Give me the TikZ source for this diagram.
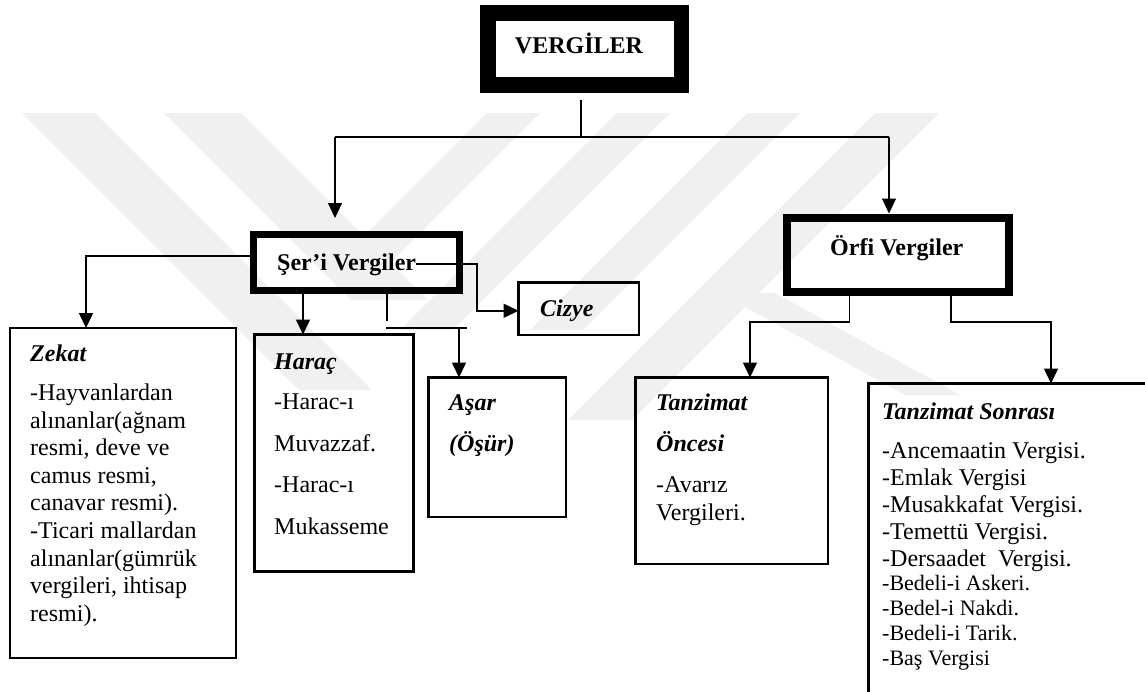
\documentclass[tikz,border=0pt]{standalone}
\usepackage{fontspec}
\setmainfont{Liberation Serif}[
  BoldFont={Liberation Serif Bold},
  ItalicFont={Liberation Serif Italic},
  BoldItalicFont={Liberation Serif Bold Italic}]
\usetikzlibrary{arrows.meta,calc}
\begin{document}
\begin{tikzpicture}[x=1pt,y=-1pt,
  wm/.style={fill=black!6,draw=none},
  heavybox/.style={draw,line width=#1,inner sep=0pt,outer sep=0pt,anchor=north west},
  leafbox/.style={draw,line width=2.2pt,inner sep=0pt,outer sep=0pt,anchor=north west},
  tri/.tip={Triangle[width=14pt,length=15pt]},
  wire/.style={line width=1.1pt},
  link/.style={line width=1.6pt},
  body/.style={inner sep=0pt,anchor=base west,font=\fontsize{24}{28}\selectfont},
  small/.style={body,font=\fontsize{22}{26}\selectfont},
  head/.style={body,font=\fontsize{24}{28}\selectfont\bfseries\itshape},
  title/.style={inner sep=0pt,font=\fontsize{24}{28}\selectfont\bfseries},
]
\useasboundingbox (0,0) rectangle (1145,691);
\clip (0,0) rectangle (1145,691);
\fill[white] (0,0) rectangle (1145,691);

% faint background emblem
\fill[wm] (22,113) -- (95,113) -- (372,390) -- (299,390) -- cycle;
\fill[wm] (164,113) -- (241,113) -- (428,300) -- (351,300) -- cycle;
\fill[wm] (487,113) -- (540,113) -- (393,260) -- (340,260) -- cycle;
\fill[wm] (617,113) -- (670,113) -- (453,330) -- (400,330) -- cycle;
\fill[wm] (747,113) -- (800,113) -- (583,330) -- (530,330) -- cycle;
\fill[wm] (875,113) -- (939,113) -- (632,420) -- (568,420) -- cycle;
\fill[wm] (720,293) -- (775,293) -- (960,395) -- (905,395) -- cycle;

% main boxes
\node[heavybox=15.5pt, minimum width=193.5pt, minimum height=72pt] (vergi) at (488,13) {};
\node[heavybox=7pt, minimum width=206pt, minimum height=56pt] (ser) at (253.5,234.5) {};
\node[heavybox=8pt, minimum width=222.5pt, minimum height=74pt] (orfi) at (786.5,218) {};

\node[title, anchor=base] (vergitxt) at (579,53.5) {VERGİLER};
\node[title, anchor=base west] (sertxt) at (277,270.5) {Şer’i Vergiler};
\node[title, anchor=base west] (orfitxt) at (830,255) {Örfi Vergiler};

% leaf boxes
\node[leafbox, minimum width=226pt, minimum height=330pt] (zekat) at (10,328) {};
\node[leafbox, minimum width=159pt, minimum height=237pt] (harac) at (254.5,334.5) {};
\node[leafbox, minimum width=137.5pt, minimum height=139.5pt] (asar) at (428.5,377.5) {};
\node[leafbox, minimum width=120.5pt, minimum height=52.5pt] (cizye) at (518.5,282.5) {};
\node[leafbox, minimum width=192.5pt, minimum height=186.5pt] (once) at (635.5,377.5) {};
\node[leafbox, minimum width=320pt, minimum height=360pt] (sonra) at (868.5,383.5) {};

% texts of the leaf boxes
\node[head] (zkhead) at (30,361) {Zekat};
\foreach \t [count=\i] in {-Hayvanlardan, alınanlar(ağnam, {resmi, deve ve}, {camus resmi,}, canavar resmi)., -Ticari mallardan, alınanlar(gümrük, {vergileri, ihtisap}, resmi).}
  \node[body] (zk\i) at (30,{400.5+27.6*(\i-1)}) {\t};

\node[head] (hrhead) at (274,369) {Haraç};
\node[body] (hr1) at (274,409) {-Harac-ı};
\node[body] (hr2) at (274,451) {Muvazzaf.};
\node[body] (hr3) at (274,492) {-Harac-ı};
\node[body] (hr4) at (274,534) {Mukasseme};

\node[head] (ashead) at (449,410) {Aşar};
\node[head] (ashead2) at (449,451.5) {(Öşür)};

\node[head] (czhead) at (540,316) {Cizye};

\node[head] (onhead) at (656,410) {Tanzimat};
\node[head] (onhead2) at (656,451) {Öncesi};
\node[body] (on1) at (656,492) {-Avarız};
\node[body] (on2) at (656,520) {Vergileri.};

\node[head] (sohead) at (882,419) {Tanzimat Sonrası};
\foreach \t [count=\i] in {-Ancemaatin Vergisi., -Emlak Vergisi, -Musakkafat Vergisi., -Temettü Vergisi., {-Dersaadet~ Vergisi.}}
  \node[body] (sa\i) at (882,{458+27*(\i-1)}) {\t};
\foreach \t [count=\i] in {-Bedeli-i Askeri., -Bedel-i Nakdi., -Bedeli-i Tarik., -Baş Vergisi}
  \node[small] (sb\i) at (882,{590+25*(\i-1)}) {\t};

% connectors from the top box
\coordinate (vstub) at (581,100);
\coordinate (hubL) at (335,137);
\coordinate (hubR) at (889,137);
\coordinate (tipS) at (335,218);
\coordinate (tipO) at (889,213.5);
\draw[wire] (vstub) -- (vstub |- hubL);
\draw[wire] (hubL) -- (hubR);
\draw[wire,-tri] (hubL) -- (tipS);
\draw[wire,-tri] (hubR) -- (tipO);

% connectors below Şer'i Vergiler
\draw[link,-tri] ($(ser.west)+(0,-6.5)$) -| ($(zekat.north west)+(76,0)$);
\draw[link,-tri] ($(ser.south west)+(49.5,0)$) -- ($(harac.north west)+(48.5,0)$);
\draw[link] ($(ser.south west)+(133.5,0)$) -- ++(0,30.5);
\coordinate (barL) at (386,328);
\coordinate (barR) at (467,328);
\coordinate (barA) at (459,328);
\draw[link] (barL) -- (barR);
\draw[link,-tri] (barA) -- (barA |- asar.north);
\coordinate (elbowC) at (477,264);
\draw[link,-tri] (sertxt.east |- elbowC) -- (elbowC) |- ($(cizye.west)+(0,2)$);

% connectors below Örfi Vergiler
\coordinate (kneeL) at (750,322);
\coordinate (kneeR) at (1051,322);
\draw[link,-tri] ($(orfi.south west)+(63,0)$) |- (kneeL) -- (kneeL |- once.north);
\draw[link,-tri] ($(orfi.south west)+(164.5,0)$) |- (kneeR) -- (kneeR |- sonra.north);
\end{tikzpicture}
\end{document}
